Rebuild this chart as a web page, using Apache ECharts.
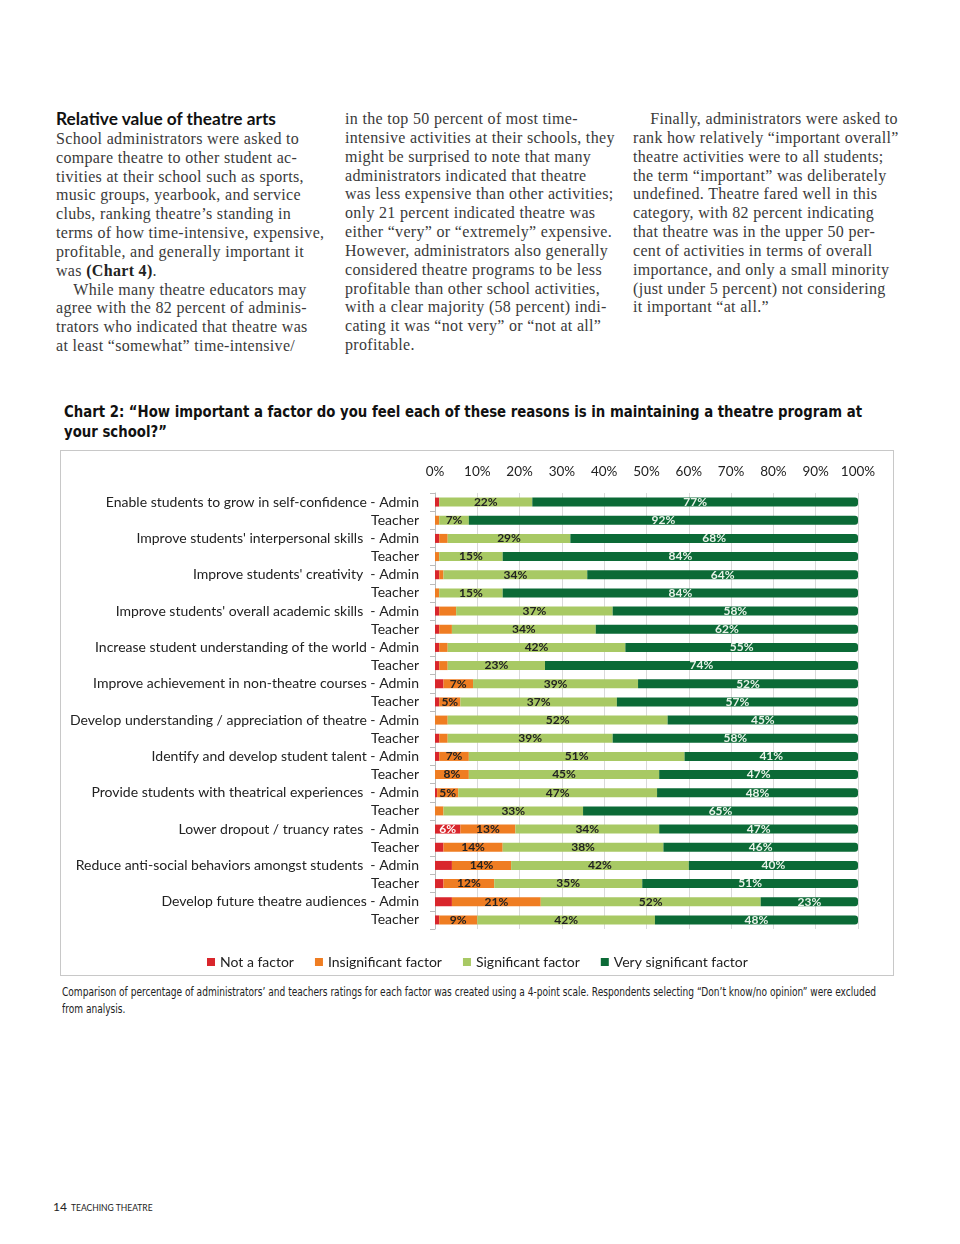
<!DOCTYPE html>
<html>
<head>
<meta charset="utf-8">
<script src="https://cdn.jsdelivr.net/npm/echarts@6/dist/echarts.min.js"></script>
<style>
  html, body { margin: 0; padding: 0; background: #fff; }
  body { width: 960px; height: 1244px; position: relative; overflow: hidden; }
  .col { position: absolute; top: 110px; font-family: "Liberation Serif", "DejaVu Serif", serif; font-size: 16px; letter-spacing: 0.32px; line-height: 18.85px; color: #3a3a3a; white-space: nowrap; }
  .head { font-family: Lato, "Open Sans", sans-serif; font-weight: 700; font-size: 17.3px; letter-spacing: 0; color: #111; }
  .title { position: absolute; left: 64px; top: 402px; font-family: "DejaVu Sans Condensed", "Liberation Sans", sans-serif; font-weight: 700; font-size: 16.5px; line-height: 20px; color: #111; white-space: nowrap; transform-origin: 0 0; }
  #chart { position: absolute; left: 60px; top: 450px; width: 834px; height: 526px; border: 1px solid #c8c8c8; box-sizing: border-box; }
  .caption { position: absolute; left: 62px; top: 983px; font-family: "DejaVu Sans Condensed", "Liberation Sans", sans-serif; font-size: 12.5px; line-height: 17px; color: #222; white-space: nowrap; transform-origin: 0 0; }
  .footer { position: absolute; left: 53px; top: 1195px; font-family: Lato, sans-serif; color: #222; white-space: nowrap; }
  .ln { display: inline-block; }
</style>
</head>
<body>
<div class="col" style="left:56px;">
<span class="head">Relative value of theatre arts</span><br>
School administrators were asked to<br>
compare theatre to other student ac-<br>
tivities at their school such as sports,<br>
music groups, yearbook, and service<br>
clubs, ranking theatre’s standing in<br>
terms of how time-intensive, expensive,<br>
profitable, and generally important it<br>
was <b style="color:#222">(Chart 4)</b>.<br>
&nbsp;&nbsp;&nbsp;&nbsp;While many theatre educators may<br>
agree with the 82 percent of adminis-<br>
trators who indicated that theatre was<br>
at least “somewhat” time-intensive/
</div>
<div class="col" style="left:345px;">
in the top 50 percent of most time-<br>
intensive activities at their schools, they<br>
might be surprised to note that many<br>
administrators indicated that theatre<br>
was less expensive than other activities;<br>
only 21 percent indicated theatre was<br>
either “very” or “extremely” expensive.<br>
However, administrators also generally<br>
considered theatre programs to be less<br>
profitable than other school activities,<br>
with a clear majority (58 percent) indi-<br>
cating it was “not very” or “not at all”<br>
profitable.
</div>
<div class="col" style="left:633px;">
&nbsp;&nbsp;&nbsp;&nbsp;Finally, administrators were asked to<br>
rank how relatively “important overall”<br>
theatre activities were to all students;<br>
the term “important” was deliberately<br>
undefined. Theatre fared well in this<br>
category, with 82 percent indicating<br>
that theatre was in the upper 50 per-<br>
cent of activities in terms of overall<br>
importance, and only a small minority<br>
(just under 5 percent) not considering<br>
it important “at all.”
</div>
<div class="title" id="title"><span class="ln" id="t1">Chart 2: “How important a factor do you feel each of these reasons is in maintaining a theatre program at</span><br>your school?”</div>
<div id="chart"></div>
<div class="caption" id="caption"><span class="ln" id="c1">Comparison of percentage of administrators’ and teachers ratings for each factor was created using a 4-point scale. Respondents selecting “Don’t know/no opinion” were excluded</span><br>from analysis.</div>
<div class="footer"><span style="font-size:12px;">14</span> <span style="font-size:8.5px;">TEACHING THEATRE</span></div>
<script>
function fitX(boxId, lineId, target) {
  var w = document.getElementById(lineId).getBoundingClientRect().width;
  document.getElementById(boxId).style.transform = 'scaleX(' + (target / w) + ')';
}
fitX('title', 't1', 798);
fitX('caption', 'c1', 814);

var categories = [
  "Enable students to grow in self-confidence - Admin", "Teacher",
  "Improve students' interpersonal skills  - Admin", "Teacher",
  "Improve students' creativity  - Admin", "Teacher",
  "Improve students' overall academic skills  - Admin", "Teacher",
  "Increase student understanding of the world - Admin", "Teacher",
  "Improve achievement in non-theatre courses - Admin", "Teacher",
  "Develop understanding / appreciation of theatre - Admin", "Teacher",
  "Identify and develop student talent - Admin", "Teacher",
  "Provide students with theatrical experiences  - Admin", "Teacher",
  "Lower dropout / truancy rates  - Admin", "Teacher",
  "Reduce anti-social behaviors amongst students  - Admin", "Teacher",
  "Develop future theatre audiences - Admin", "Teacher"
];
var notFactor      = [1, 0, 1, 0, 1, 0, 1, 1, 1, 1, 2, 1, 0, 1, 1, 0, 0.5, 0, 6, 2, 4, 2, 4, 1];
var insignificant  = [0, 1, 2, 1, 1, 1, 4, 3, 2, 2, 7, 5, 3, 2, 7, 8, 5, 2, 13, 14, 14, 12, 21, 9];
var significant    = [22, 7, 29, 15, 34, 15, 37, 34, 42, 23, 39, 37, 52, 39, 51, 45, 47, 33, 34, 38, 42, 35, 52, 42];
var verySignificant= [77, 92, 68, 84, 64, 84, 58, 62, 55, 74, 52, 57, 45, 58, 41, 47, 48, 65, 47, 46, 40, 51, 23, 48];
var seriesNames = ["Not a factor", "Insignificant factor", "Significant factor", "Very significant factor"];

var rowIds = categories.map(function (c, i) { return String(i); });

var chart = echarts.init(document.getElementById('chart'));
var font = 'Lato, "Open Sans", sans-serif';
function lbl(color) {
  return {
    show: true, position: 'inside', color: color, fontWeight: 'bold', fontSize: 12,
    fontFamily: font,
    formatter: function (p) { return p.value >= 5 ? Math.round(p.value) + '%' : ''; }
  };
}
chart.setOption({
  animation: false,
  color: ['#d9262c', '#ef7d22', '#a8c964', '#0b6a36'],
  grid: { left: 374, right: 35, top: 42, height: 436 },
  legend: {
    data: seriesNames, top: 499, left: 141, itemWidth: 8, itemHeight: 8, itemGap: 21,
    icon: 'rect', textStyle: { fontSize: 14, color: '#222', fontFamily: font }
  },
  xAxis: {
    type: 'value', position: 'top', min: 0, max: 100, interval: 10,
    axisLabel: { formatter: '{value}%', fontSize: 13.5, color: '#222', fontFamily: font, margin: 14 },
    splitLine: { show: true, lineStyle: { color: '#d9d9d9' } },
    axisLine: { show: false }, axisTick: { show: false }
  },
  yAxis: {
    type: 'category', inverse: true, data: rowIds,
    axisLabel: { interval: 0, fontSize: 14, color: '#222', fontFamily: font, margin: 16,
      formatter: function (v) { return categories[+v]; } },
    axisLine: { show: true, lineStyle: { color: '#bbb' } },
    axisTick: { show: true, interval: 0, lineStyle: { color: '#bbb' } }
  },
  series: [
    { name: seriesNames[0], type: 'bar', stack: 't', barWidth: 9, data: notFactor, label: lbl('#fff') },
    { name: seriesNames[1], type: 'bar', stack: 't', barWidth: 9, data: insignificant, label: lbl('#222') },
    { name: seriesNames[2], type: 'bar', stack: 't', barWidth: 9, data: significant, label: lbl('#222') },
    { name: seriesNames[3], type: 'bar', stack: 't', barWidth: 9, data: verySignificant, label: lbl('#e8f2e8'),
      itemStyle: { borderRadius: [0, 3, 3, 0] } }
  ]
});
</script>
</body>
</html>
